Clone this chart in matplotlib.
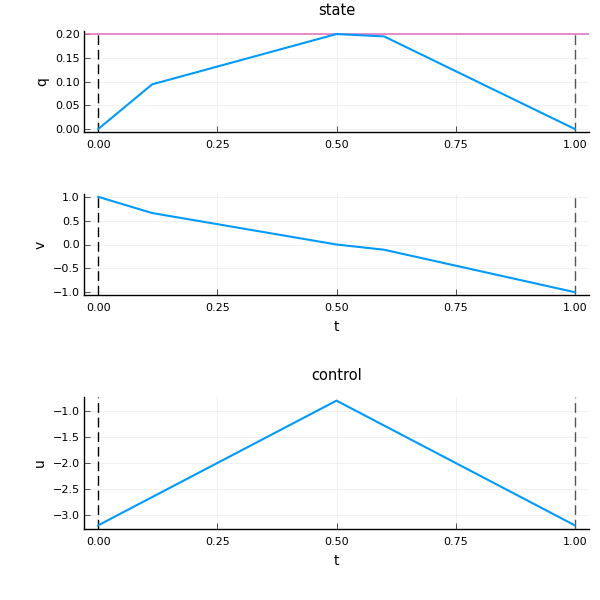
import matplotlib
matplotlib.use("Agg")
import matplotlib.pyplot as plt

t = [0.0, 0.113, 0.5, 0.6, 1.0]
q = [0.0, 0.094, 0.2, 0.195, 0.0]
v = [1.0, 0.66, 0.0, -0.11, -1.0]
t_u = [0.0, 0.5, 1.0]
u = [-3.2, -0.8, -3.2]
q_max = 0.2
t0, tf = 0.0, 1.0
xticks = [0.0, 0.25, 0.5, 0.75, 1.0]
xticklabels = ["0.00", "0.25", "0.50", "0.75", "1.00"]

blue = "#009AFA"
fig = plt.figure(figsize=(6, 6), dpi=100)
plt.rcParams['font.family'] = ['DejaVu Sans']

def widen(lo, hi, f=0.03):
    d = (hi - lo) * f
    return lo - d, hi + d

L, R = 0.14, 0.9817
ax1 = fig.add_axes([L, 0.7803, R - L, 0.948 - 0.7803])
ax2 = fig.add_axes([L, 0.5083, R - L, 0.6767 - 0.5083])
ax3 = fig.add_axes([L, 0.1183, R - L, 0.3385 - 0.1183])

def style(ax, ylo, yhi, yticks, ylabels):
    ax.set_xlim(*widen(0, 1))
    ax.set_ylim(*widen(ylo, yhi))
    ax.set_xticks(xticks)
    ax.set_xticklabels(xticklabels)
    ax.set_yticks(yticks)
    ax.set_yticklabels(ylabels)
    ax.grid(True, color="black", alpha=0.08, linewidth=0.5)
    ax.set_axisbelow(True)
    for s in ("top", "right"):
        ax.spines[s].set_visible(False)
    for s in ("left", "bottom"):
        ax.spines[s].set_linewidth(1.0)
    ax.tick_params(direction="in", length=4, width=0.6, labelsize=8, pad=3, color="#333333")
    ax.tick_params(axis="x", pad=6)
    ax.axvline(t0, color="black", linestyle=(0, (7, 3.5)), linewidth=1.0, zorder=3)
    ax.axvline(tf, color="#555555", linestyle=(0, (7, 3.5)), linewidth=1.0, zorder=3)

def lbl(x):
    return [f"{val:.2f}".replace("-", "\u2212") for val in x]

style(ax1, 0, 0.2, [0, 0.05, 0.1, 0.15, 0.2], lbl([0, 0.05, 0.1, 0.15, 0.2]))
ax1.axhline(q_max, color="#E377C2", linewidth=1.2, zorder=2)
ax1.plot(t, q, color=blue, linewidth=1.5, zorder=4)
ax1.set_ylabel("q", fontsize=10)
ax1.set_title("state", fontsize=10.5, pad=12)

vt = [1.0, 0.5, 0.0, -0.5, -1.0]
style(ax2, -1, 1, vt, [f"{x:.1f}".replace("-", "\u2212") for x in vt])
ax2.plot(t, v, color=blue, linewidth=1.5, zorder=4)
ax2.set_ylabel("v", fontsize=10)
ax2.set_xlabel("t", fontsize=10, labelpad=5)

ut = [-1.0, -1.5, -2.0, -2.5, -3.0]
style(ax3, -3.2, -0.8, ut, [f"{x:.1f}".replace("-", "\u2212") for x in ut])
ax3.plot(t_u, u, color=blue, linewidth=1.5, zorder=4)
ax3.set_ylabel("u", fontsize=10)
ax3.set_xlabel("t", fontsize=10, labelpad=5)
ax3.set_title("control", fontsize=10.5, pad=12)

fig.savefig("out.png", dpi=100)
